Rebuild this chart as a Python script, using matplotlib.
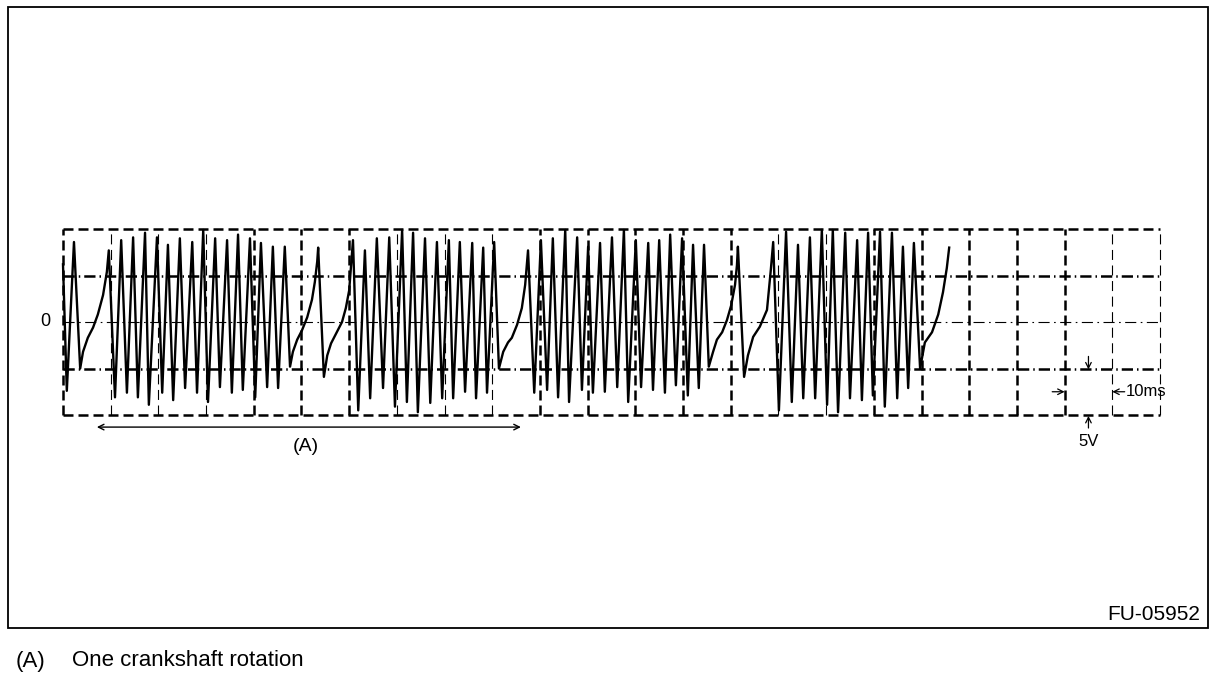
import matplotlib
matplotlib.use("Agg")
import matplotlib.pyplot as plt
from matplotlib.patches import Rectangle

plt.rcParams['font.family'] = ['Liberation Sans', 'DejaVu Sans']

# scope settings: 10 ms / div, 5 V / div
n_xdiv = 23
ms_per_div = 10
v_per_div = 5

# waveform (time in ms, voltage in V)
lead_t = [0.0, 0.8, 2.3, 3.6, 4.2, 5.2, 6.3, 7.3, 8.4, 9.2]
lead_v = [6.2, -7.4, 8.6, -5.0, -3.2, -1.7, -0.6, 0.8, 2.9, 5.4]

group1_t = [9.6, 10.9, 12.2, 13.4, 14.7, 15.7, 17.2, 18.0, 19.7, 20.8, 22.0, 23.1,
            24.5, 25.6, 27.1, 28.1, 29.4, 30.4, 31.9, 32.9, 34.4, 35.4, 36.7, 37.7,
            39.2, 40.3, 41.5, 42.8, 44.0, 45.1, 46.5]
group1_v = [7.7, -8.1, 8.8, -7.6, 9.1, -8.1, 9.6, -8.9, 9.1, -7.6, 8.3, -8.4,
            9.0, -7.1, 8.6, -7.6, 9.9, -8.6, 9.0, -7.0, 8.8, -7.6, 9.4, -7.3,
            9.0, -8.1, 8.5, -7.0, 8.1, -7.1, 8.1]

gap1_t = [47.6, 48.2, 49.1, 50.1, 51.2, 52.2, 52.8, 53.3, 53.5,
          54.7, 55.4, 56.2, 57.2, 58.5, 59.3, 60.0, 60.4]
gap1_v = [-4.8, -3.2, -1.9, -0.9, 0.5, 2.4, 4.3, 6.5, 8.0,
          -5.9, -3.6, -2.3, -1.3, 0.0, 1.5, 3.4, 6.1]

group2_t = [60.8, 61.9, 63.3, 64.4, 65.8, 67.1, 68.4, 69.6, 71.1, 72.1, 73.4, 74.4,
            75.9, 77.0, 78.4, 79.5, 80.9, 81.8, 83.2, 84.3, 85.8, 86.6, 88.1, 88.9, 90.4]
group2_v = [8.8, -9.5, 7.7, -8.2, 9.0, -7.1, 9.1, -9.1, 9.9, -8.6, 9.6, -9.7,
            9.0, -8.7, 8.6, -8.2, 8.8, -8.2, 8.6, -7.5, 8.5, -8.2, 8.0, -7.6, 8.6]

gap2_t = [91.4, 92.3, 93.3, 94.1, 95.2, 96.2, 96.9]
gap2_v = [-5.0, -3.2, -2.2, -1.7, -0.3, 1.5, 4.0]

group3_t = [97.5, 98.8, 100.2, 101.5, 102.7, 103.8, 105.3, 106.1, 107.8, 108.8,
            110.1, 111.1, 112.6, 113.6, 115.1, 116.2, 117.6, 118.5, 120.1, 121.2,
            122.7, 123.7, 125.0, 126.2, 127.3, 128.5, 129.8, 131.0, 132.1, 133.3, 134.4]
group3_v = [7.7, -7.6, 8.8, -7.3, 9.0, -8.1, 9.9, -8.6, 9.1, -7.3,
            8.1, -7.6, 8.5, -7.5, 9.1, -7.0, 9.9, -8.6, 8.8, -7.0,
            8.5, -7.3, 8.8, -7.6, 9.4, -6.8, 9.0, -7.9, 8.3, -7.1, 8.3]

gap3_t = [135.4, 136.3, 137.1, 138.2, 139.2, 140.1, 140.9, 141.3, 141.5,
          142.8, 143.6, 144.7, 146.1, 147.6, 148.4]
gap3_v = [-4.8, -3.2, -1.9, -1.1, 0.2, 1.8, 4.0, 6.1, 8.1,
          -5.9, -3.6, -1.6, -0.5, 1.3, 5.6]

group4_t = [148.9, 150.1, 151.6, 152.8, 154.1, 155.2, 156.6, 157.7, 159.1, 160.2,
            161.4, 162.5, 164.0, 165.0, 166.5, 167.5, 168.8, 169.8, 171.3, 172.3,
            173.8, 174.9, 176.1, 177.2, 178.4]
group4_v = [8.6, -9.5, 9.7, -8.6, 8.3, -8.2, 9.1, -8.2, 9.9, -8.9,
            9.9, -9.7, 9.6, -8.2, 8.8, -8.4, 9.6, -7.9, 9.7, -9.1,
            9.6, -8.2, 8.1, -7.1, 8.5]

tail_t = [179.7, 180.7, 182.2, 183.5, 184.5, 185.3, 185.8]
tail_v = [-5.0, -2.2, -1.1, 0.8, 3.2, 5.8, 8.0]

wave_t = lead_t + group1_t + gap1_t + group2_t + gap2_t + group3_t + gap3_t + group4_t + tail_t
wave_v = lead_v + group1_v + gap1_v + group2_v + gap2_v + group3_v + gap3_v + group4_v + tail_v

# which vertical grid lines print light in the original
thin_cols = [1, 2, 3, 7, 8, 9, 15, 16, 22, 23]

W, H = 1216, 680
fig = plt.figure(figsize=(W / 100, H / 100), dpi=100)
ax = fig.add_axes([63 / W, 1 - 415 / H, (1160 - 63) / W, (415 - 229) / H])
x_max = n_xdiv * ms_per_div
ax.set_xlim(0, x_max)
ax.set_ylim(-2 * v_per_div, 2 * v_per_div)
ax.axis('off')

# grid
for i in range(n_xdiv + 1):
    x = i * ms_per_div
    if i in thin_cols:
        ax.plot([x, x], [-10, 10], color='black', lw=0.8, dashes=(9, 5), clip_on=False)
    else:
        ax.plot([x, x], [-10, 10], color='black', lw=1.8, dashes=(4, 2), clip_on=False)
for y in [-10, 10]:
    ax.plot([0, x_max], [y, y], color='black', lw=1.8, dashes=(4, 2), clip_on=False)
for y in [-5, 5]:
    ax.plot([0, x_max], [y, y], color='black', lw=1.8, dashes=(4.5, 1.6, 0.6, 1.6), clip_on=False)
ax.plot([0, x_max], [0, 0], color='black', lw=0.8, dashes=(10, 4, 1.5, 4), clip_on=False)

# trace
ax.plot(wave_t, wave_v, color='black', lw=1.7, solid_joinstyle='round', clip_on=False)

ax.text(-3.8, 0, '0', fontsize=13, ha='center', va='center')

# one rotation marker
ax.annotate('', xy=(7.1, -11.3), xytext=(96.0, -11.3),
            arrowprops=dict(arrowstyle='<->', lw=1.0, color='black', shrinkA=0, shrinkB=0),
            annotation_clip=False)
ax.text(50.9, -13.4, '(A)', fontsize=14, ha='center', va='center')

# scale markers
arr = dict(arrowstyle='->', lw=0.9, color='black', shrinkA=0, shrinkB=0)
ax.annotate('', xy=(210, -7.5), xytext=(207.4, -7.5), arrowprops=arr, annotation_clip=False)
ax.annotate('', xy=(220, -7.5), xytext=(222.6, -7.5), arrowprops=arr, annotation_clip=False)
ax.text(222.8, -7.5, '10ms', fontsize=12, ha='left', va='center')
ax.annotate('', xy=(215, -5.1), xytext=(215, -3.7), arrowprops=arr, annotation_clip=False)
ax.annotate('', xy=(215, -10.1), xytext=(215, -11.4), arrowprops=arr, annotation_clip=False)
ax.text(215, -12.8, '5V', fontsize=12, ha='center', va='center')

# figure frame and captions
fig.patches.append(Rectangle((8 / W, 1 - 628 / H), 1200 / W, 621 / H, transform=fig.transFigure,
                             fill=False, lw=1.3, edgecolor='black'))
fig.text(1200 / W, 1 - 614 / H, 'FU-05952', fontsize=15, ha='right', va='center')
fig.text(16 / W, 1 - 661 / H, '(A)', fontsize=16, ha='left', va='center')
fig.text(72 / W, 1 - 661 / H, 'One crankshaft rotation', fontsize=16, ha='left', va='center')

fig.savefig('out.png', dpi=100)
